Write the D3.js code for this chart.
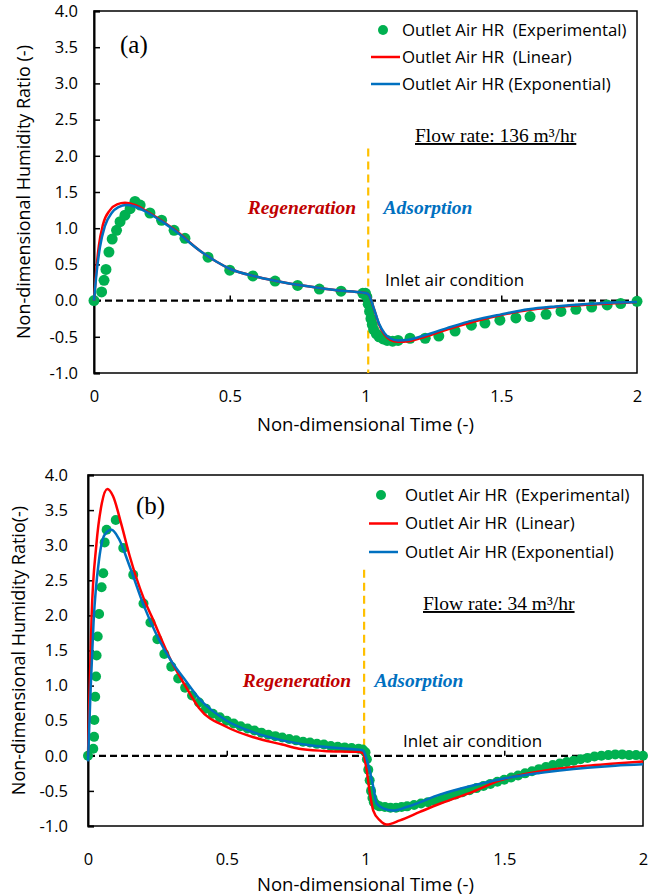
<!DOCTYPE html>
<html>
<head>
<meta charset="utf-8">
<script src="https://cdn.jsdelivr.net/npm/d3@7"></script>
<style>
  body { margin: 0; background: #fff; }
  svg { display: block; }
  text { white-space: pre; }
  .axis text { font-family: "Open Sans", "Noto Sans", sans-serif; font-size: 16.5px; fill: #000; }
</style>
</head>
<body>
<svg id="chart" width="664" height="896"></svg>
<script>
// ---- panel (a) : 136 m3/hr ----
var expA = [[0,0.0],[0.028,0.12],[0.037,0.28],[0.044,0.43],[0.055,0.67],[0.067,0.85],[0.083,0.97],
    [0.096,1.09],[0.114,1.18],[0.133,1.27],[0.151,1.37],[0.17,1.32],[0.206,1.21],[0.249,1.11],
    [0.295,0.97],[0.335,0.86],[0.42,0.6],[0.5,0.42],[0.585,0.34],[0.667,0.27],[0.75,0.21],
    [0.83,0.16],[0.91,0.13],[0.99,0.1],[1.0,0.1],[1.005,0.05],[1.01,-0.05],[1.015,-0.15],
    [1.02,-0.25],[1.025,-0.33],[1.03,-0.4],[1.04,-0.46],[1.05,-0.5],[1.065,-0.53],[1.08,-0.55],
    [1.1,-0.56],[1.12,-0.55],[1.164,-0.52],[1.22,-0.52],[1.27,-0.49],[1.33,-0.42],[1.39,-0.34],
    [1.44,-0.31],[1.495,-0.27],[1.554,-0.24],[1.606,-0.22],[1.665,-0.19],[1.72,-0.15],[1.775,-0.12],
    [1.833,-0.09],[1.89,-0.06],[1.94,-0.04],[2.0,-0.01]];
var linA = [[0,0],[0.008,0.4],[0.018,0.76],[0.033,1.05],[0.059,1.25],[0.085,1.33],[0.114,1.35],[0.15,1.32],
    [0.2,1.22],[0.255,1.09],[0.3,0.97],[0.39,0.69],[0.45,0.54],[0.5,0.44],[0.6,0.33],[0.7,0.25],
    [0.8,0.19],[0.9,0.14],[0.99,0.11],[1.01,0.09],[1.03,-0.1],[1.05,-0.33],[1.07,-0.47],[1.09,-0.54],
    [1.12,-0.57],[1.16,-0.56],[1.2,-0.52],[1.3,-0.4],[1.4,-0.29],[1.5,-0.2],[1.6,-0.13],[1.7,-0.09],
    [1.8,-0.06],[1.9,-0.04],[2.0,-0.02]];
var expoA = [[0,0],[0.01,0.4],[0.022,0.74],[0.04,1.03],[0.065,1.21],[0.09,1.29],[0.12,1.32],[0.15,1.3],
    [0.2,1.21],[0.255,1.08],[0.3,0.96],[0.39,0.69],[0.45,0.54],[0.5,0.44],[0.6,0.33],[0.7,0.25],
    [0.8,0.19],[0.9,0.14],[0.99,0.11],[1.01,0.09],[1.03,-0.1],[1.05,-0.32],[1.07,-0.45],[1.09,-0.52],
    [1.12,-0.55],[1.16,-0.54],[1.2,-0.5],[1.3,-0.38],[1.4,-0.27],[1.5,-0.19],[1.6,-0.12],[1.7,-0.08],
    [1.8,-0.05],[1.9,-0.03],[2.0,-0.02]];

// ---- panel (b) : 34 m3/hr ----
var expB = [[0,0.0],[0.019,0.1],[0.022,0.27],[0.023,0.51],[0.026,0.84],[0.029,1.13],[0.031,1.43],
    [0.035,1.7],[0.04,2.02],[0.049,2.4],[0.055,2.6],[0.06,3.04],[0.067,3.22],[0.1,3.36],[0.127,2.96],
    [0.163,2.58],[0.2,2.17],[0.225,1.9],[0.25,1.66],[0.275,1.45],[0.3,1.27],[0.325,1.1],[0.35,0.97],
    [0.375,0.86],[0.4,0.76],[0.425,0.67],[0.45,0.6],[0.475,0.55],[0.5,0.5],[0.525,0.46],[0.55,0.42],
    [0.575,0.39],[0.6,0.36],[0.625,0.33],[0.65,0.3],[0.675,0.28],[0.7,0.26],[0.725,0.24],[0.75,0.22],
    [0.775,0.2],[0.8,0.19],[0.825,0.17],[0.85,0.16],[0.875,0.14],[0.9,0.13],[0.925,0.12],[0.95,0.11],
    [0.975,0.1],[0.99,0.09],[1.0,0.05],[1.005,-0.05],[1.01,-0.2],[1.015,-0.35],[1.02,-0.5],[1.025,-0.6],
    [1.03,-0.66],[1.04,-0.7],[1.05,-0.72],[1.07,-0.73],[1.09,-0.74],[1.11,-0.74],[1.13,-0.73],
    [1.15,-0.72],[1.175,-0.7],[1.2,-0.68],[1.225,-0.66],[1.25,-0.64],[1.275,-0.61],[1.3,-0.58],
    [1.325,-0.55],[1.35,-0.52],[1.375,-0.49],[1.4,-0.46],[1.425,-0.43],[1.45,-0.4],[1.475,-0.37],
    [1.5,-0.34],[1.525,-0.31],[1.55,-0.28],[1.575,-0.25],[1.6,-0.22],[1.625,-0.19],[1.65,-0.16],
    [1.675,-0.13],[1.7,-0.11],[1.725,-0.09],[1.75,-0.07],[1.775,-0.05],[1.8,-0.03],[1.825,-0.01],
    [1.85,0.0],[1.875,0.01],[1.9,0.02],[1.925,0.02],[1.95,0.01],[1.975,0.01],[2.0,0.0]];
var linB = [[0,0],[0.005,0.8],[0.013,1.98],[0.03,3.0],[0.05,3.6],[0.07,3.8],[0.09,3.7],[0.12,3.3],
    [0.15,2.85],[0.2,2.25],[0.23,1.98],[0.3,1.35],[0.35,1.0],[0.4,0.68],[0.5,0.41],[0.6,0.26],
    [0.7,0.16],[0.76,0.1],[0.85,0.07],[0.97,0.056],[0.99,0.04],[1.004,-0.2],[1.016,-0.54],
    [1.028,-0.78],[1.052,-0.92],[1.076,-0.98],[1.124,-0.92],[1.196,-0.8],[1.27,-0.68],[1.388,-0.51],
    [1.485,-0.35],[1.6,-0.24],[1.7,-0.18],[1.8,-0.14],[1.9,-0.11],[2.0,-0.08]];
var expoB = [[0,-0.08],[0.01,1.0],[0.02,1.9],[0.04,2.8],[0.06,3.15],[0.085,3.22],[0.11,3.1],
    [0.15,2.7],[0.2,2.15],[0.25,1.7],[0.3,1.35],[0.35,1.08],[0.4,0.82],[0.5,0.5],[0.6,0.33],
    [0.7,0.22],[0.8,0.15],[0.9,0.11],[0.99,0.08],[1.005,-0.06],[1.028,-0.44],[1.04,-0.68],
    [1.064,-0.75],[1.1,-0.78],[1.148,-0.73],[1.27,-0.55],[1.39,-0.42],[1.49,-0.33],[1.6,-0.26],
    [1.7,-0.21],[1.8,-0.17],[1.9,-0.14],[2.0,-0.12]];

var yTicks = [-1, -0.5, 0, 0.5, 1, 1.5, 2, 2.5, 3, 3.5, 4];
var xTicks = [0, 0.5, 1, 1.5, 2];
var legendNames = ["Outlet Air HR  (Experimental)", "Outlet Air HR  (Linear)", "Outlet Air HR (Exponential)"];

var panels = [
    { tag: "(a)", flow: "Flow rate: 136 m³/hr", exp: expA, lin: linA, expo: expoA,
      yTitle: "Non-dimensional Humidity Ratio (-)", boundary: 1.01, bTop: 2.1, bBot: -1.0,
      box: { l: 94, r: 637, t: 11, b: 373 }, r: 5.5, yPad: 16,
      tagPos: [120, 53, 25], legend: { x: 383, y: 30, dy: 27, tx: 402 }, flowPos: [415, 142],
      regen: [302, 214], adsorp: [428, 214], inlet: [385, 286], yTitleX: 24, xlab: 402, xTitle: 431 },
    { tag: "(b)", flow: "Flow rate: 34 m³/hr", exp: expB, lin: linB, expo: expoB,
      yTitle: "Non-dimensional Humidity Ratio(-)", boundary: 0.995, bTop: 2.65, bBot: 0,
      box: { l: 88, r: 643, t: 475, b: 826 }, r: 5, yPad: 20,
      tagPos: [136, 514, 25], legend: { x: 381, y: 495, dy: 28.5, tx: 405 }, flowPos: [423, 610],
      regen: [297, 687], adsorp: [419, 687], inlet: [403, 747], yTitleX: 19, xlab: 865, xTitle: 891 }
];

var svg = d3.select("#chart");
var sans = '"Open Sans", "Noto Sans", sans-serif';
var serif = '"Liberation Serif", "Times New Roman", serif';

panels.forEach(function(p) {
    var g = svg.append("g");
    var x = d3.scaleLinear().domain([0, 2]).range([p.box.l, p.box.r]);
    var y = d3.scaleLinear().domain([-1, 4]).range([p.box.b, p.box.t]);

    // plot area border
    g.append("rect")
        .attr("x", p.box.l).attr("y", p.box.t)
        .attr("width", p.box.r - p.box.l).attr("height", p.box.b - p.box.t)
        .attr("fill", "none").attr("stroke", "#000").attr("stroke-width", 1.5);

    // y axis, ticks inside
    var yAxis = g.append("g").attr("class", "axis")
        .attr("transform", "translate(" + p.box.l + ",0)")
        .call(d3.axisLeft(y).tickValues(yTicks).tickSize(-6).tickPadding(p.yPad)
            .tickFormat(function(d) { return d.toFixed(1); }));
    yAxis.select(".domain").attr("stroke-width", 2);
    yAxis.selectAll(".tick line").attr("stroke-width", 1.5);

    // x ticks on the zero line, labels at the bottom
    var xTickAxis = g.append("g")
        .attr("transform", "translate(0," + y(0) + ")")
        .call(d3.axisTop(x).tickValues(xTicks).tickSize(5).tickFormat(""));
    xTickAxis.select(".domain").remove();
    xTickAxis.selectAll(".tick line").attr("stroke-width", 1.5);

    var xLab = g.append("g").attr("class", "axis")
        .attr("transform", "translate(0," + p.box.b + ")")
        .call(d3.axisBottom(x).tickValues(xTicks).tickSize(0).tickPadding(p.xlab - p.box.b - 12)
            .tickFormat(d3.format("")));
    xLab.select(".domain").remove();

    // axis titles
    g.append("text")
        .attr("x", (p.box.l + p.box.r) / 2).attr("y", p.xTitle)
        .attr("text-anchor", "middle").attr("font-family", sans).attr("font-size", 18.5)
        .text("Non-dimensional Time (-)");
    g.append("text")
        .attr("transform", "translate(" + p.yTitleX + "," + ((p.box.t + p.box.b) / 2) + ") rotate(-90)")
        .attr("text-anchor", "middle").attr("dy", "0.35em")
        .attr("font-family", sans).attr("font-size", 18)
        .text(p.yTitle);

    // inlet air condition line
    g.append("line")
        .attr("x1", x(0)).attr("x2", x(2)).attr("y1", y(0)).attr("y2", y(0))
        .attr("stroke", "#000").attr("stroke-width", 2.2).attr("stroke-dasharray", "7,4");

    // regeneration / adsorption boundary
    g.append("line")
        .attr("x1", x(p.boundary)).attr("x2", x(p.boundary))
        .attr("y1", y(p.bTop)).attr("y2", y(p.bBot))
        .attr("stroke", "#FFC000").attr("stroke-width", 2.2).attr("stroke-dasharray", "8,5");

    // experimental points
    g.append("g").selectAll("circle")
        .data(p.exp).enter().append("circle")
        .attr("cx", function(d) { return x(d[0]); })
        .attr("cy", function(d) { return y(d[1]); })
        .attr("r", p.r).attr("fill", "#00B050");

    var line = d3.line()
        .x(function(d) { return x(d[0]); })
        .y(function(d) { return y(d[1]); })
        .curve(d3.curveMonotoneX);

    g.append("path").datum(p.lin).attr("d", line)
        .attr("fill", "none").attr("stroke", "#FF0000").attr("stroke-width", 2.5);
    g.append("path").datum(p.expo).attr("d", line)
        .attr("fill", "none").attr("stroke", "#0070C0").attr("stroke-width", 2.5);

    // legend
    var lg = g.append("g");
    lg.append("circle").attr("cx", p.legend.x).attr("cy", p.legend.y).attr("r", 5).attr("fill", "#00B050");
    lg.append("line").attr("x1", p.legend.x - 12).attr("x2", p.legend.x + 17)
        .attr("y1", p.legend.y + p.legend.dy).attr("y2", p.legend.y + p.legend.dy)
        .attr("stroke", "#FF0000").attr("stroke-width", 2.5);
    lg.append("line").attr("x1", p.legend.x - 12).attr("x2", p.legend.x + 17)
        .attr("y1", p.legend.y + 2 * p.legend.dy).attr("y2", p.legend.y + 2 * p.legend.dy)
        .attr("stroke", "#0070C0").attr("stroke-width", 2.5);
    legendNames.forEach(function(name, i) {
        lg.append("text")
            .attr("x", p.legend.tx).attr("y", p.legend.y + i * p.legend.dy)
            .attr("dy", "0.35em").attr("font-family", sans).attr("font-size", 16.8)
            .text(name);
    });

    // annotations
    g.append("text").attr("x", p.tagPos[0]).attr("y", p.tagPos[1])
        .attr("font-family", serif).attr("font-size", p.tagPos[2]).text(p.tag);
    g.append("text").attr("x", p.flowPos[0]).attr("y", p.flowPos[1])
        .attr("font-family", serif).attr("font-size", 19.5)
        .attr("text-decoration", "underline").text(p.flow);
    g.append("text").attr("x", p.regen[0]).attr("y", p.regen[1])
        .attr("text-anchor", "middle").attr("font-family", serif).attr("font-size", 19.5)
        .attr("font-weight", "bold").attr("font-style", "italic").attr("fill", "#C00000")
        .text("Regeneration");
    g.append("text").attr("x", p.adsorp[0]).attr("y", p.adsorp[1])
        .attr("text-anchor", "middle").attr("font-family", serif).attr("font-size", 19.5)
        .attr("font-weight", "bold").attr("font-style", "italic").attr("fill", "#0070C0")
        .text("Adsorption");
    g.append("text").attr("x", p.inlet[0]).attr("y", p.inlet[1])
        .attr("font-family", sans).attr("font-size", 17)
        .text("Inlet air condition");
});
</script>
</body>
</html>
